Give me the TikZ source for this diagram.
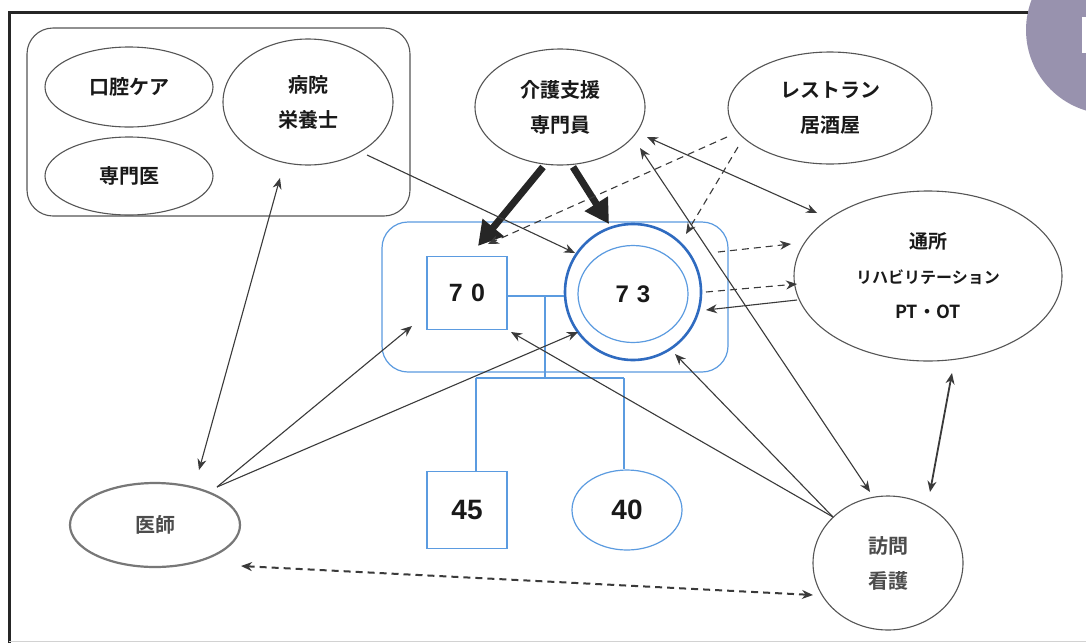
\documentclass[tikz,border=0pt]{standalone}
\usepackage{fontspec}
\setmainfont{Noto Sans CJK JP}[BoldFont={Noto Sans CJK JP Bold}]
\newfontfamily\numfont{Liberation Sans}
\usetikzlibrary{shapes.geometric,arrows.meta}
\definecolor{lineg}{HTML}{3A3A3A}
\definecolor{ellg}{HTML}{555555}
\definecolor{lblue}{HTML}{5B9BE0}
\definecolor{dblue}{HTML}{2F6BC0}
\definecolor{tabg}{HTML}{9892AE}
\tikzset{
  ell/.style={draw=ellg, ellipse, line width=1.1pt, inner sep=0pt, align=center, text=black!90},
  jp/.style={font=\bfseries\fontsize{20}{35}\selectfont},
  numtxt/.style={font=\numfont\bfseries\fontsize{25}{25}\selectfont, text=black!90},
  bl/.style={draw=lblue, line width=1.2pt},
  arr/.style={draw=lineg, line width=1.1pt, -{Stealth[length=11pt,width=9pt]}},
  darr/.style={draw=lineg, line width=1.1pt, {Stealth[length=11pt,width=9pt]}-{Stealth[length=11pt,width=9pt]}},
  thickarr/.style={draw=black!85, line width=7pt, -{Triangle[length=24pt,width=26pt]}},
  dsh/.style={dash pattern=on 7pt off 5pt},
}
\begin{document}
\begin{tikzpicture}[x=1pt,y=-1pt]
\useasboundingbox (0,0) rectangle (1086,643);
\fill[white] (0,0) rectangle (1086,643);
\begin{scope}
\clip (0,0) rectangle (1086,643);
\fill[tabg] (1110,30) circle (84);
\fill[white] (1082,17) rectangle (1090,53);
\end{scope}
% frame
\draw[line width=3pt, black!85] (9,643) -- (9,12) -- (1028,12);
\draw[gray!35, line width=1pt] (9,641.5) -- (1086,641.5);

% top-left group
\draw[draw=ellg, line width=1.1pt, rounded corners=26pt] (27,28) rectangle (410,216);
\node[ell, jp, minimum width=168pt, minimum height=80pt] (koku) at (129,87) {口腔ケア};
\node[ell, jp, minimum width=168pt, minimum height=78pt] (senmon) at (129,176) {専門医};
\node[ell, jp, minimum width=170pt, minimum height=126pt] (byoin) at (308,102) {病院\\栄養士};

\node[ell, jp, minimum width=170pt, minimum height=116pt] (kaigo) at (560,107) {介護支援\\専門員};
\node[ell, jp, minimum width=204pt, minimum height=112pt] (rest) at (830,108) {レストラン\\居酒屋};
\node[ell, font=\bfseries\fontsize{19}{35}\selectfont, minimum width=268pt, minimum height=170pt] (tsusho) at (928,276)
  {通所\\{\fontsize{16}{35}\selectfont リハビリテーション}\\{\fontsize{18}{35}\selectfont PT・OT}};
\node[ell, jp, draw=ellg!80, line width=2.2pt, minimum width=170pt, minimum height=84pt, text=black!70] (ishi) at (155,525) {医師};
\node[ell, jp, minimum width=150pt, minimum height=134pt, text=black!70] (homon) at (888,563) {訪問\\看護};

% family structure (blue)
\draw[bl, rounded corners=26pt] (382,222) rectangle (728,372);
\node[bl, draw, minimum width=80pt, minimum height=73pt, inner sep=0pt, numtxt] (p70) at (467,293) {7\,\,0};
\node[draw=dblue, line width=2.6pt, circle, minimum size=136pt, inner sep=0pt] (p73o) at (633,292) {};
\node[bl, draw, ellipse, minimum width=110pt, minimum height=97pt, inner sep=0pt, numtxt, font=\numfont\bfseries\fontsize{24}{24}\selectfont] (p73) at (633,294) {7\,\,3};
\node[bl, draw, minimum width=80pt, minimum height=77pt, inner sep=0pt, numtxt, font=\numfont\bfseries\fontsize{28}{28}\selectfont] (p45) at (467,510) {45};
\node[bl, draw, ellipse, minimum width=110pt, minimum height=80pt, inner sep=0pt, numtxt, font=\numfont\bfseries\fontsize{28}{28}\selectfont] (p40) at (627,510) {40};

\coordinate (m1) at (545,296);
\coordinate (m2) at (545,378);
\coordinate (c45) at (476,378);
\coordinate (c40) at (624,378);
\draw[bl] (p70.east |- m1) -- (p73o.west |- m1);
\draw[bl] (m1) -- (m2);
\draw[bl] (c45) -- (c40);
\draw[bl] (c45) -- (c45 |- p45.north);
\draw[bl] (c40) -- (c40 |- p40.north);

% coordinates for connector ends
\coordinate (k1) at (543,167);
\coordinate (k2) at (573,167);
\coordinate (t70a) at (478,246);
\coordinate (t73a) at (609,224);
\coordinate (r1) at (727,137);
\coordinate (r2) at (738,147);
\coordinate (t70b) at (488,244);
\coordinate (t73b) at (686,234);
\coordinate (k3) at (647,137);
\coordinate (ts1) at (817,213);
\coordinate (k4) at (640,148);
\coordinate (h1) at (870,492);
\coordinate (b1) at (367,155);
\coordinate (t73c) at (575,253);
\coordinate (b2) at (280,178);
\coordinate (i1) at (199,470);
\coordinate (i2) at (217,487);
\coordinate (t70c) at (412,326);
\coordinate (t73d) at (578,332);
\coordinate (h2) at (833,517);
\coordinate (t70d) at (511,332);
\coordinate (t73e) at (675,354);
\coordinate (s1) at (718,252);
\coordinate (ts2) at (791,244);
\coordinate (s2) at (706,292);
\coordinate (ts3) at (797,284);
\coordinate (ts4) at (797,300);
\coordinate (s3) at (706,310);
\coordinate (ts5) at (952,373);
\coordinate (h3) at (930,492);
\coordinate (i3) at (241,566);
\coordinate (h4) at (813,595);

% connectors
\draw[thickarr] (k1) -- (t70a);
\draw[thickarr] (k2) -- (t73a);
\draw[arr, dsh] (r1) -- (t70b);
\draw[arr, dsh] (r2) -- (t73b);
\draw[darr] (k3) -- (ts1);
\draw[darr] (k4) -- (h1);
\draw[arr] (b1) -- (t73c);
\draw[darr] (b2) -- (i1);
\draw[arr] (i2) -- (t70c);
\draw[arr] (i2) -- (t73d);
\draw[arr] (h2) -- (t70d);
\draw[arr] (h2) -- (t73e);
\draw[arr, dsh] (s1) -- (ts2);
\draw[arr, dsh] (s2) -- (ts3);
\draw[arr] (ts4) -- (s3);
\draw[darr, line width=1.8pt] (ts5) -- (h3);
\draw[darr, dsh, line width=2pt] (i3) -- (h4);
\end{tikzpicture}
\end{document}
